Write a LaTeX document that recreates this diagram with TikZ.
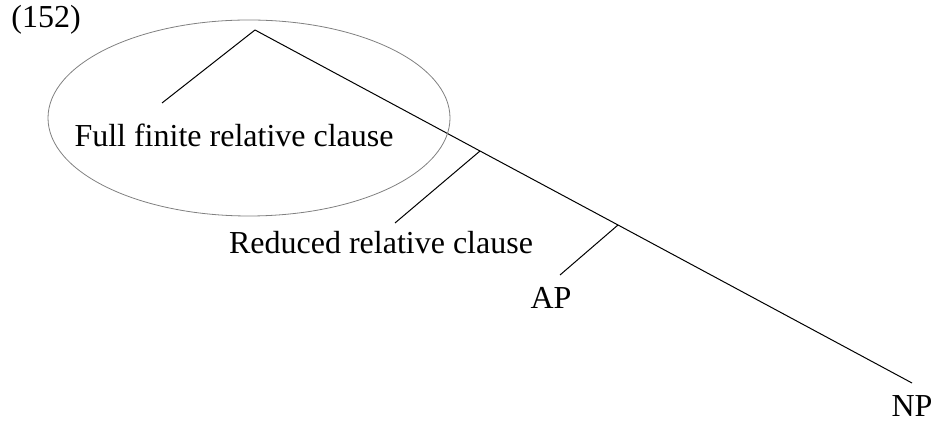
\documentclass[tikz,border=0pt]{standalone}
\usepackage{fontspec}
\setmainfont{Liberation Serif}
\usetikzlibrary{calc}

\begin{document}
\begin{tikzpicture}[x=0.5pt,y=-0.5pt,
		lbl/.style={inner sep=0pt,font=\fontsize{16}{19}\selectfont},
		branch/.style={line width=0.5pt,color=black}]
			\useasboundingbox (0,0) rectangle (931,421);
			\node[lbl,anchor=north west] (num) at (11,5) {(152)};
			
			% branching points on the spine
			\coordinate (top) at (255,30);
			\coordinate (rr) at (480,151);
			\coordinate (ap) at (618,225);
			\coordinate (np) at (912,383);
			
			% leaf ends
			\coordinate (ffend) at (162,103);
			\coordinate (rrend) at (395,223);
			\coordinate (apend) at (560,275);
			
			\node[lbl] (ff) at (234,135) {Full finite relative clause};
			\node[lbl] (rrl) at (381,243) {Reduced relative clause};
			\node[lbl] (apl) at (551,298) {AP};
			\node[lbl] (npl) at (912,406) {NP};
			
			\draw[branch] (top) -- (rr) -- (ap) -- (np);
			\draw[branch] (top) -- (ffend);
			\draw[branch] (rr) -- (rrend);
			\draw[branch] (ap) -- (apend);
			
			\draw[line width=0.4pt,color=gray] (249,118) ellipse (201 and 98);
		\end{tikzpicture}
\end{document}
